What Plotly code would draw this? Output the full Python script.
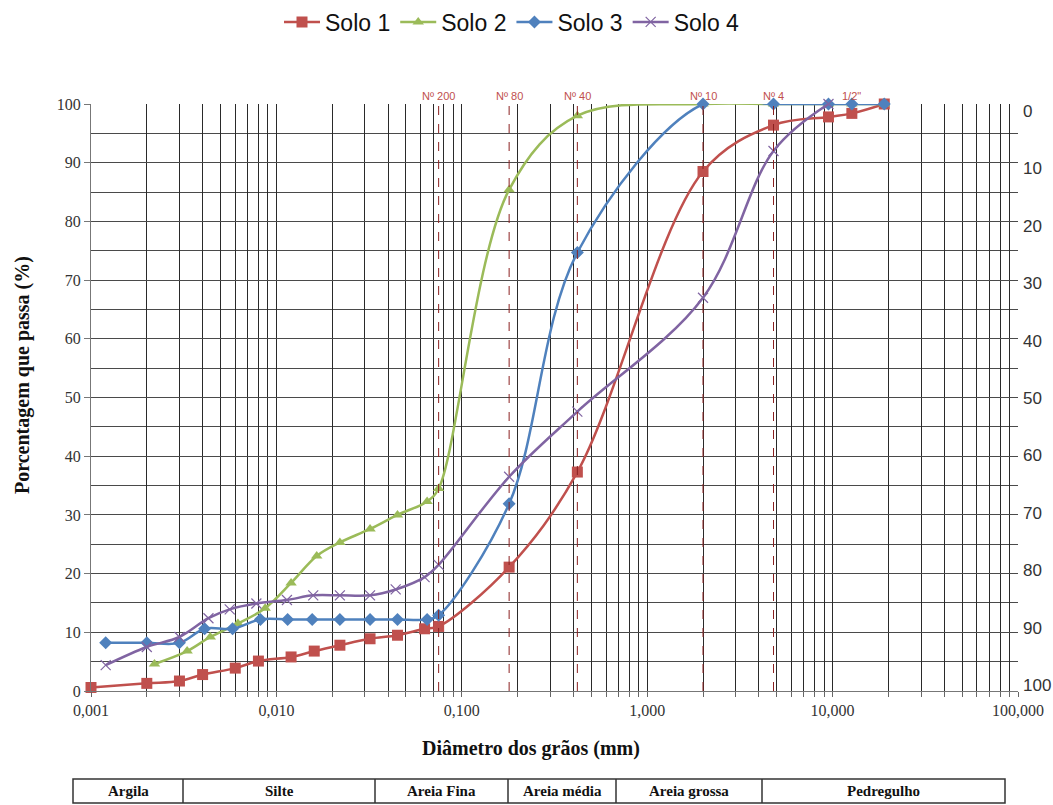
import math
import plotly.graph_objects as go

# ---------------- data ----------------
solo1_d = [0.001, 0.002, 0.003, 0.004, 0.006, 0.008, 0.012, 0.016, 0.022, 0.032, 0.045, 0.063, 0.075, 0.18, 0.42, 2.0, 4.8, 9.5, 12.7, 19.0]
solo1_p = [0.6, 1.3, 1.7, 2.8, 3.9, 5.1, 5.8, 6.8, 7.8, 8.9, 9.5, 10.6, 11.0, 21.1, 37.3, 88.5, 96.4, 97.8, 98.4, 100]

solo2_d = [0.0022, 0.0033, 0.0044, 0.0062, 0.0087, 0.012, 0.0165, 0.022, 0.032, 0.045, 0.065, 0.075, 0.18, 0.42, 2.0, 4.8, 9.5, 12.7, 19.0]
solo2_p = [4.6, 6.8, 9.2, 11.5, 14.1, 18.4, 23.0, 25.3, 27.6, 30.0, 32.3, 34.5, 85.4, 98.0, 100, 100, 100, 100, 100]

solo3_d = [0.0012, 0.002, 0.003, 0.0041, 0.0058, 0.0082, 0.0115, 0.0156, 0.022, 0.032, 0.045, 0.065, 0.075, 0.18, 0.42, 2.0, 4.8, 9.5, 12.7, 19.0]
solo3_p = [8.2, 8.2, 8.2, 10.6, 10.6, 12.2, 12.2, 12.2, 12.2, 12.2, 12.2, 12.2, 12.9, 31.9, 74.7, 100, 100, 100, 100, 100]

solo4_d = [0.0012, 0.002, 0.003, 0.0043, 0.0056, 0.0078, 0.0114, 0.0158, 0.022, 0.032, 0.044, 0.063, 0.075, 0.18, 0.42, 2.0, 4.8, 9.5]
solo4_p = [4.4, 7.5, 9.2, 12.4, 13.9, 14.9, 15.5, 16.3, 16.3, 16.3, 17.3, 19.4, 21.5, 36.5, 47.6, 67.0, 92.0, 100]

series_names = ["Solo 1", "Solo 2", "Solo 3", "Solo 4"]

sieve_labels = ["Nº 200", "Nº 80", "Nº 40", "Nº 10", "Nº 4", "1/2\""]
sieve_mm = [0.075, 0.18, 0.42, 2.0, 4.8, 12.7]
sieve_has_line = [True, True, True, True, True, False]

x_tick_labels = ["0,001", "0,010", "0,100", "1,000", "10,000", "100,000"]
soil_classes = ["Argila", "Silte", "Areia Fina", "Areia média", "Areia grossa", "Pedregulho"]

# ---------------- layout constants ----------------
W, H = 1053, 805
ML, MR, MT, MB = 91, 35, 104, 114
PW = W - ML - MR
PH = H - MT - MB

def px_x(p):
    return (p - ML) / PW

def px_y(p):
    return (H - MB - p) / PH

SERIF = "Liberation Serif, Times New Roman, serif"
SANS = "Liberation Sans, Arial, sans-serif"

# log ticks: every digit in every decade, labels only at decades
tickvals, ticktext = [], []
for i, e in enumerate(range(-3, 2)):
    for k in range(1, 10):
        tickvals.append(k * 10 ** e)
        ticktext.append(x_tick_labels[i] if k == 1 else "")
tickvals.append(100)
ticktext.append(x_tick_labels[-1])

fig = go.Figure()

styles = [
    dict(color="#C0504D", symbol="square", size=11, lw=2.5),
    dict(color="#9BBB59", symbol="triangle-up", size=10, lw=2.5),
    dict(color="#4F81BD", symbol="diamond", size=10, lw=2.5),
    dict(color="#8064A2", symbol="x-thin-open", size=10, lw=2.5),
]
data = [(solo1_d, solo1_p), (solo2_d, solo2_p), (solo3_d, solo3_p), (solo4_d, solo4_p)]

for name, (xd, yd), st in zip(series_names, data, styles):
    marker = dict(symbol=st["symbol"], size=st["size"], color=st["color"])
    if st["symbol"] == "x-thin-open":
        marker["line"] = dict(color=st["color"], width=1.2)
    fig.add_trace(go.Scatter(
        x=xd, y=yd, name=name, mode="lines+markers",
        line=dict(color=st["color"], width=st["lw"], shape="spline", smoothing=1.0),
        marker=marker, cliponaxis=False,
    ))

# secondary axis (retained) - invisible trace to activate
fig.add_trace(go.Scatter(x=[1], y=[50], yaxis="y2", mode="markers",
                         marker=dict(opacity=0), showlegend=False, hoverinfo="skip"))

# sieve lines and labels
for lab, mm, has in zip(sieve_labels, sieve_mm, sieve_has_line):
    if has:
        fig.add_shape(type="line", xref="x", yref="paper", x0=mm, x1=mm, y0=0, y1=1,
                      line=dict(color="#8B2020", width=1, dash="dash"), layer="above")
    fig.add_annotation(x=math.log10(mm), xref="x", y=px_y(96), yref="paper", text=lab,
                       showarrow=False, font=dict(family=SANS, size=11, color="#C0504D"),
                       xanchor="center", yanchor="middle")

# axis titles as annotations
fig.add_annotation(x=px_x(22), y=px_y(375), xref="paper", yref="paper",
                   text="<b>Porcentagem que passa (%)</b>", textangle=-90, showarrow=False,
                   font=dict(family=SERIF, size=20, color="#111"), xanchor="center", yanchor="middle")
fig.add_annotation(x=px_x(531), y=px_y(748), xref="paper", yref="paper",
                   text="<b>Diâmetro dos grãos (mm)</b>", showarrow=False,
                   font=dict(family=SERIF, size=20, color="#111"), xanchor="center", yanchor="middle")

# soil classification table
bounds = [73, 183, 375, 508, 616, 762, 1005]
t_top, t_bot = 779, 803
fig.add_shape(type="rect", xref="paper", yref="paper",
              x0=px_x(bounds[0]), x1=px_x(bounds[-1]), y0=px_y(t_bot), y1=px_y(t_top),
              line=dict(color="#333", width=1.5))
for b in bounds[1:-1]:
    fig.add_shape(type="line", xref="paper", yref="paper", x0=px_x(b), x1=px_x(b),
                  y0=px_y(t_bot), y1=px_y(t_top), line=dict(color="#333", width=1.5))
for i, lab in enumerate(soil_classes):
    cx = (bounds[i] + bounds[i + 1]) / 2
    fig.add_annotation(x=px_x(cx), y=px_y((t_top + t_bot) / 2), xref="paper", yref="paper",
                       text="<b>" + lab + "</b>", showarrow=False,
                       font=dict(family=SERIF, size=15, color="#111"), xanchor="center", yanchor="middle")

fig.update_layout(
    width=W, height=H, autosize=False,
    margin=dict(l=ML, r=MR, t=MT, b=MB, autoexpand=False),
    paper_bgcolor="white", plot_bgcolor="white",
    showlegend=True,
    legend=dict(orientation="h", x=px_x(512), xanchor="center", y=px_y(22), yanchor="middle",
                font=dict(family=SANS, size=23, color="#111"), itemwidth=36,
                bgcolor="rgba(0,0,0,0)", tracegroupgap=0),
    xaxis=dict(type="log", range=[-3, 2], tickvals=tickvals, ticktext=ticktext,
               showgrid=True, gridcolor="#2a2a2a", gridwidth=1,
               ticks="outside", ticklen=5, tickcolor="#666",
               showline=True, linecolor="#777", linewidth=1, mirror=False,
               tickfont=dict(family=SERIF, size=16, color="#333"), zeroline=False),
    yaxis=dict(range=[0, 100], tickvals=[0, 10, 20, 30, 40, 50, 60, 70, 80, 90, 100],
               showgrid=True, gridcolor="#4a4a4a", gridwidth=1.3,
               minor=dict(tickvals=[5, 15, 25, 35, 45, 55, 65, 75, 85, 95], showgrid=True,
                          gridcolor="#4a4a4a", gridwidth=1.3, ticks=""),
               ticks="outside", ticklen=6, tickcolor="#777",
               showline=True, linecolor="#777", linewidth=1,
               tickfont=dict(family=SERIF, size=16, color="#333"), zeroline=False),
    yaxis2=dict(overlaying="y", side="right", range=[101, -1.2],
                tickvals=[0, 10, 20, 30, 40, 50, 60, 70, 80, 90, 100],
                showgrid=False, zeroline=False, showline=False, ticks="",
                ticklabelstandoff=4, automargin=False,
                tickfont=dict(family=SANS, size=17, color="#333")),
)

fig.write_html("out.html")
